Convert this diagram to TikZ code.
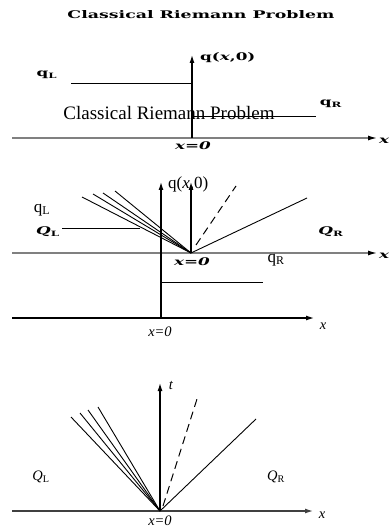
\documentclass[tikz,border=0pt]{standalone}
\usepackage{amsmath,amssymb}
\usepackage{graphicx}
\usepackage{fontspec}
\usepackage{tikz}
\usetikzlibrary{arrows.meta}
\newfontfamily\timesfont{Liberation Serif}
\newfontfamily\slabfont{DejaVu Serif}
\newcommand{\widebf}[1]{\scalebox{1.6}[1]{#1}}

\begin{document}
\begin{tikzpicture}[x=1pt,y=-1pt,
	plain/.style={inner sep=0pt, font=\timesfont\fontsize{17}{17}\selectfont},
	small/.style={inner sep=0pt, font=\timesfont\fontsize{14.5}{15}\selectfont},
	heavy/.style={inner sep=0pt, font=\slabfont\bfseries\fontsize{10.5}{11}\selectfont},
	axis/.style={line width=1.2pt, -{Latex[length=8pt,width=5pt]}},
	greyaxis/.style={draw=black!50, line width=1.3pt, -{Latex[length=9pt,width=5pt,color=black]}},
	wave/.style={line width=0.9pt},
	shock/.style={line width=1pt, dash pattern=on 8pt off 5pt}]
	\useasboundingbox (0,0) rectangle (390,529);
	\node[heavy] (title) at (201,15) {\resizebox{267pt}{8pt}{Classical Riemann Problem}};
	% initial data
	\coordinate (O1) at (192,138);
	\draw[greyaxis] (12,138) -- (377,138);
	\draw[axis] (O1) -- (192,55);
	\node[heavy, anchor=west] (qtop) at (200,58) {\widebf{q(\textit{x},0)}};
	\node[heavy] (qLtop) at (47,75) {\widebf{q\textsubscript{L}}};
	\node[heavy] (qRtop) at (331,104) {\widebf{q\textsubscript{R}}};
	\draw[wave] (71,83) -- (192,83);
	\draw[wave] (192,116) -- (316,116);
	\node[plain, font=\timesfont\fontsize{19}{19}\selectfont] (caption) at (169,113) {Classical Riemann Problem};
	\node[heavy] (zerotop) at (193,146) {\widebf{\textit{x=0}}};
	\node[heavy, anchor=west] (xtop) at (379,141) {\widebf{\textit{x}}};
	% fan over the data
	\coordinate (O2) at (191,253);
	\draw[greyaxis] (12,253) -- (377,253);
	\node[heavy, anchor=west] (xmid) at (379,256) {\widebf{\textit{x}}};
	\draw[axis] (161,318) -- (161,182);
	\node[plain, anchor=west] (qmid) at (168,184) {q(\textit{x},0)};
	\draw[axis] (O2) -- (191,182);
	\foreach \ex/\ey in {82/197, 93/194, 103/193, 115/191}
		\draw[wave] (O2) -- (\ex,\ey);
	\draw[shock] (196,245) -- (236,186);
	\draw[wave] (O2) -- (307,198);
	\draw[wave] (62,228) -- (140,228);
	\node[heavy] (QLmid) at (48,232) {\widebf{\textit{Q}\textsubscript{L}}};
	\node[heavy] (QRmid) at (331,232) {\widebf{\textit{Q}\textsubscript{R}}};
	\node[plain] (qLmid) at (42,210) {q\textsubscript{L}};
	\node[plain] (qRmid) at (276,260) {q\textsubscript{R}};
	\node[heavy] (zeromid) at (192,262) {\widebf{\textit{x=0}}};
	\draw[wave] (161,282) -- (263,282);
	\draw[axis] (12,318) -- (314,318);
	\node[small] (xlow) at (323,326) {\textit{x}};
	\node[small] (zerolow) at (160,332) {\textit{x=0}};
	% x-t plane
	\coordinate (O3) at (160,511);
	\draw[axis, draw=black!75] (12,511) -- (313,511);
	\node[small] (xbot) at (322,515) {\textit{x}};
	\draw[axis] (O3) -- (160,383);
	\node[small] (tbot) at (171,385) {\textit{t}};
	\foreach \ex/\ey in {71/417, 80/413, 88/410, 98/407}
		\draw[wave] (O3) -- (\ex,\ey);
	\draw[shock] (163,506) -- (197,399);
	\draw[wave] (O3) -- (256,419);
	\node[small] (QLbot) at (41,477) {\textit{Q}\textsubscript{L}};
	\node[small] (QRbot) at (276,477) {\textit{Q}\textsubscript{R}};
	\node[small] (zerobot) at (160,521) {\textit{x=0}};
\end{tikzpicture}
\end{document}
